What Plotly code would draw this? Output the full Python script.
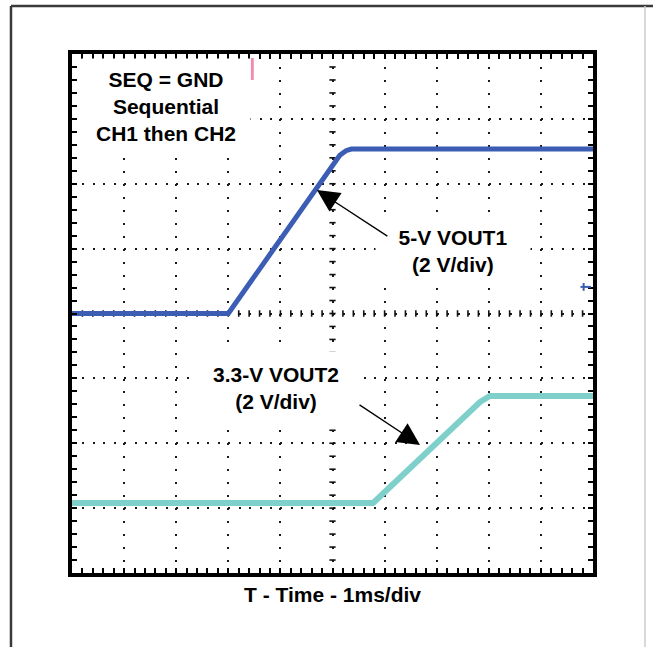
import numpy as np
import plotly.graph_objects as go

# ---------------- data (read from the scope capture) ----------------
# time in ms, voltage in V
t_ch1 = [0.0, 3.0, 5.14, 5.26, 5.36, 10.0]
v_ch1 = [0.0, 0.0, 4.88, 5.02, 5.07, 5.07]
t_ch2 = [0.0, 5.78, 7.83, 7.94, 8.02, 10.0]
v_ch2 = [0.0, 0.0, 3.11, 3.25, 3.30, 3.30]

VOLTS_PER_DIV = 2.0
CH1_OFFSET_DIV = 0.0     # ground reference position of CH1 (divisions)
CH2_OFFSET_DIV = -2.92   # ground reference position of CH2 (divisions)

CH1_COLOR = "#3C5DB4"
CH2_COLOR = "#7FD0CB"

y_ch1 = [v / VOLTS_PER_DIV + CH1_OFFSET_DIV for v in v_ch1]
y_ch2 = [v / VOLTS_PER_DIV + CH2_OFFSET_DIV for v in v_ch2]

fig = go.Figure()
fig.add_trace(go.Scatter(x=t_ch2, y=y_ch2, mode="lines", name="3.3-V VOUT2",
                         line=dict(color=CH2_COLOR, width=6), hoverinfo="skip"))
fig.add_trace(go.Scatter(x=t_ch1, y=y_ch1, mode="lines", name="5-V VOUT1",
                         line=dict(color=CH1_COLOR, width=5), hoverinfo="skip"))

# ---------------- scope graticule: center-line cross ticks ----------------
shapes = []
for xv in np.arange(0.2, 10.0, 0.2):
    shapes.append(dict(type="line", xref="x", yref="y", x0=xv, x1=xv, y0=-0.05, y1=0.05,
                       line=dict(color="#111", width=1.6), layer="between"))
for yv in np.arange(-3.8, 4.0, 0.2):
    shapes.append(dict(type="line", xref="x", yref="y", x0=4.94, x1=5.06, y0=yv, y1=yv,
                       line=dict(color="#111", width=1.6), layer="between"))

# small channel markers seen on the capture
shapes.append(dict(type="line", xref="x", yref="y", x0=3.46, x1=3.46, y0=3.60, y1=3.94,
                   line=dict(color="#F08CB0", width=3), layer="above"))
shapes.append(dict(type="line", xref="x", yref="y", x0=9.76, x1=9.96, y0=0.41, y1=0.41,
                   line=dict(color=CH1_COLOR, width=2), layer="above"))
shapes.append(dict(type="line", xref="x", yref="y", x0=9.82, x1=9.82, y0=0.35, y1=0.47,
                   line=dict(color=CH1_COLOR, width=2), layer="above"))

# page frame
shapes.append(dict(type="line", xref="paper", yref="paper", x0=-0.1171, x1=-0.1171,
                   y0=1.0925, y1=-0.25, line=dict(color="#3a3a3a", width=2.5)))
shapes.append(dict(type="line", xref="paper", yref="paper", x0=-0.1171, x1=1.25,
                   y0=1.0925, y1=1.0925, line=dict(color="#3a3a3a", width=2.5)))
shapes.append(dict(type="line", xref="paper", yref="paper", x0=1.0998, x1=1.0998,
                   y0=1.0925, y1=-0.25, line=dict(color="#cccccc", width=1.5)))

FONT = "Liberation Sans, Arial, Helvetica, sans-serif"
FS = 21
annotations = [
    dict(text="<b>SEQ = GND</b><br><b>Sequential</b><br><b>CH1 then CH2</b>",
         x=1.80, y=3.19, xref="x", yref="y", showarrow=False, bgcolor="white",
         width=166, height=93, borderpad=1, align="center",
         font=dict(size=FS, family=FONT, color="black")),
    dict(text="<b>5-V VOUT1</b><br><b>(2 V/div)</b>",
         x=7.31, y=0.97, xref="x", yref="y", showarrow=False, bgcolor="white",
         width=152, height=54, borderpad=1, align="center",
         font=dict(size=FS, family=FONT, color="black")),
    dict(text="<b>3.3-V VOUT2</b><br><b>(2 V/div)</b>",
         x=3.925, y=-1.148, xref="x", yref="y", showarrow=False, bgcolor="white",
         width=162, height=70, borderpad=1, align="center",
         font=dict(size=FS, family=FONT, color="black")),
    dict(text="", x=4.70, y=1.903, xref="x", yref="y", showarrow=True,
         ax=72, ay=47, arrowhead=2, arrowsize=3.3, arrowwidth=1.35,
         arrowcolor="black", standoff=0),
    dict(text="", x=6.68, y=-2.026, xref="x", yref="y", showarrow=True,
         ax=-62, ay=-41, arrowhead=2, arrowsize=3.3, arrowwidth=1.35,
         arrowcolor="black", standoff=0),
    dict(text="<b>T - Time - 1ms/div</b>", x=0.5, y=-0.0414, xref="paper", yref="paper",
         xanchor="center", yanchor="middle", showarrow=False,
         font=dict(size=FS, family=FONT, color="black")),
]

axis_common = dict(
    showgrid=True, gridcolor="#1a1a1a", gridwidth=1.6, zeroline=False,
    showline=True, linecolor="black", linewidth=4, mirror="all",
    ticks="inside", ticklen=5, tickwidth=2, tickcolor="black",
    showticklabels=False, fixedrange=True,
)

fig.update_xaxes(range=[0, 10], tick0=0, dtick=1, griddash="2px,10.98px",
                 minor=dict(tick0=0, dtick=0.2, ticks="inside", ticklen=5, tickwidth=2,
                            tickcolor="black", showgrid=False),
                 **axis_common)
fig.update_yaxes(range=[-4, 4], tick0=0, dtick=1, griddash="2px,8.42px",
                 minor=dict(tick0=0, dtick=0.2, ticks="inside", ticklen=5, tickwidth=2,
                            tickcolor="black", showgrid=False),
                 **axis_common)

fig.update_layout(
    width=653, height=647,
    margin=dict(l=72, r=60, t=54, b=74),
    paper_bgcolor="white", plot_bgcolor="white",
    showlegend=False,
    font=dict(family=FONT, color="black"),
    shapes=shapes, annotations=annotations,
)

fig.write_html("out.html")
